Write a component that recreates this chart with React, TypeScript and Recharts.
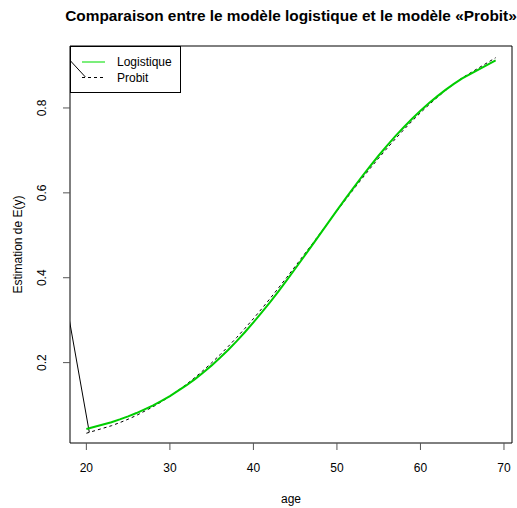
import { LineChart, Line, XAxis, YAxis, ReferenceArea, Legend, Label } from 'recharts'

// fitted values at the ages of the sample
const AGES = [20, 23, 24, 25, 26, 28, 29, 30, 32, 33, 34, 35, 36, 37, 38, 39, 40, 41, 42, 43, 44, 45, 46, 47, 48, 49, 50, 51, 52, 53, 54, 55, 56, 57, 58, 59, 60, 61, 62, 63, 64, 65, 69]
const LOGISTIQUE = [0.0435, 0.0596, 0.0662, 0.0734, 0.0812, 0.0994, 0.1098, 0.1211, 0.1468, 0.1612, 0.1768, 0.1935, 0.2114, 0.2305, 0.2507, 0.2721, 0.2946, 0.3182, 0.3427, 0.3681, 0.3943, 0.4211, 0.4483, 0.4758, 0.5035, 0.5312, 0.5587, 0.5859, 0.6125, 0.6385, 0.6636, 0.688, 0.7112, 0.7335, 0.7546, 0.7745, 0.7933, 0.8109, 0.8273, 0.8426, 0.8568, 0.8699, 0.9124]
const PROBIT = [0.0336, 0.0513, 0.0586, 0.0667, 0.0756, 0.0962, 0.1079, 0.1206, 0.1491, 0.1649, 0.1817, 0.1996, 0.2185, 0.2384, 0.2593, 0.281, 0.3036, 0.327, 0.3511, 0.3758, 0.401, 0.4266, 0.4526, 0.4787, 0.5049, 0.5312, 0.5573, 0.5831, 0.6086, 0.6336, 0.6581, 0.6819, 0.705, 0.7273, 0.7487, 0.7692, 0.7887, 0.8072, 0.8247, 0.8412, 0.8566, 0.871, 0.9184]

// stray solid segment that leaves the plot on the left
const TRACE_AGES = [19.88, 11.1, 20.35]
const TRACE_VALUES = [0.873, 1.06, 0.036]

const AGE_TICKS = [20, 30, 40, 50, 60, 70]
const E_TICKS = [0.2, 0.4, 0.6, 0.8]

const X_DOMAIN: [number, number] = [18.04, 70.96]
const Y_DOMAIN: [number, number] = [0.0106, 0.946]

const FONT = '"Liberation Sans", Arial, Helvetica, sans-serif'
const GREEN = '#00CD00'

const logitData = AGES.map((age, i) => ({ age, p: LOGISTIQUE[i] }))
const probitData = AGES.map((age, i) => ({ age, p: PROBIT[i] }))
const traceData = TRACE_AGES.map((age, i) => ({ age, p: TRACE_VALUES[i] }))

const XTick = ({ x, payload }: { x?: number; payload?: { value: number } }) => (
  <text x={x} y={468} textAnchor="middle" dominantBaseline="central" fontSize={12} fontFamily={FONT} fill="#000">
    {payload?.value}
  </text>
)

const YTick = ({ y, payload }: { y?: number; payload?: { value: number } }) => (
  <text
    x={42}
    y={y}
    transform={`rotate(-90, 42, ${y})`}
    textAnchor="middle"
    dominantBaseline="central"
    fontSize={12}
    fontFamily={FONT}
    fill="#000"
  >
    {payload?.value}
  </text>
)

const renderLegend = () => (
  <svg width={112} height={47} style={{ display: 'block' }}>
    <rect x={0.5} y={0.5} width={110} height={46} fill="none" stroke="#000" />
    <line x1={12} y1={16} x2={35} y2={16} stroke="#4fe84f" strokeWidth={1.5} />
    <line x1={12} y1={31.5} x2={35} y2={31.5} stroke="#000" strokeDasharray="3 3" />
    <text x={47} y={16} dominantBaseline="central" fontSize={12} fontFamily={FONT} fill="#000">Logistique</text>
    <text x={47} y={31.5} dominantBaseline="central" fontSize={12} fontFamily={FONT} fill="#000">Probit</text>
  </svg>
)

export default function App() {
  return (
    <div style={{ position: 'absolute', left: 0, top: 0, width: 517, height: 508, overflow: 'hidden', background: '#fff', fontFamily: FONT }}>
      <LineChart width={517} height={508} margin={{ top: 46, right: 5, bottom: 0, left: 0 }}>
        <XAxis
          type="number"
          dataKey="age"
          domain={X_DOMAIN}
          allowDataOverflow
          ticks={AGE_TICKS}
          tick={<XTick />}
          tickSize={7}
          tickLine={{ stroke: '#555' }}
          axisLine={false}
          height={65}
        >
          <Label
            content={() => (
              <text x={291} y={503} textAnchor="middle" fontSize={12} fontFamily={FONT} fill="#000">age</text>
            )}
          />
        </XAxis>
        <YAxis
          type="number"
          dataKey="p"
          domain={Y_DOMAIN}
          allowDataOverflow
          ticks={E_TICKS}
          tick={<YTick />}
          tickSize={7}
          tickLine={{ stroke: '#555' }}
          axisLine={false}
          width={70}
        >
          <Label
            content={() => (
              <text
                x={18}
                y={244.5}
                transform="rotate(-90, 18, 244.5)"
                textAnchor="middle"
                dominantBaseline="central"
                fontSize={12}
                fontFamily={FONT}
                fill="#000"
              >
                Estimation de E(y)
              </text>
            )}
          />
        </YAxis>
        <ReferenceArea x1={X_DOMAIN[0]} x2={X_DOMAIN[1]} y1={Y_DOMAIN[0]} y2={Y_DOMAIN[1]} fill="none" stroke="#000" strokeWidth={1} />
        <Line data={traceData} dataKey="p" type="linear" stroke="#000" strokeWidth={1} dot={false} isAnimationActive={false} legendType="none" />
        <Line data={probitData} dataKey="p" type="linear" stroke="#000" strokeWidth={1} strokeDasharray="3 3" dot={false} isAnimationActive={false} />
        <Line data={logitData} dataKey="p" type="linear" stroke={GREEN} strokeWidth={2} dot={false} isAnimationActive={false} />
        <Legend
          layout="vertical"
          align="center"
          verticalAlign="middle"
          content={renderLegend}
          wrapperStyle={{ left: 70, top: 46, width: 112, height: 47 }}
        />
      </LineChart>
      <div
        style={{
          position: 'absolute',
          top: 7,
          left: 291,
          transform: 'translateX(-50%)',
          whiteSpace: 'nowrap',
          fontWeight: 'bold',
          fontSize: 15.4,
          lineHeight: '18px',
          color: '#000',
        }}
      >
        Comparaison entre le modèle logistique et le modèle «Probit»
      </div>
    </div>
  )
}
